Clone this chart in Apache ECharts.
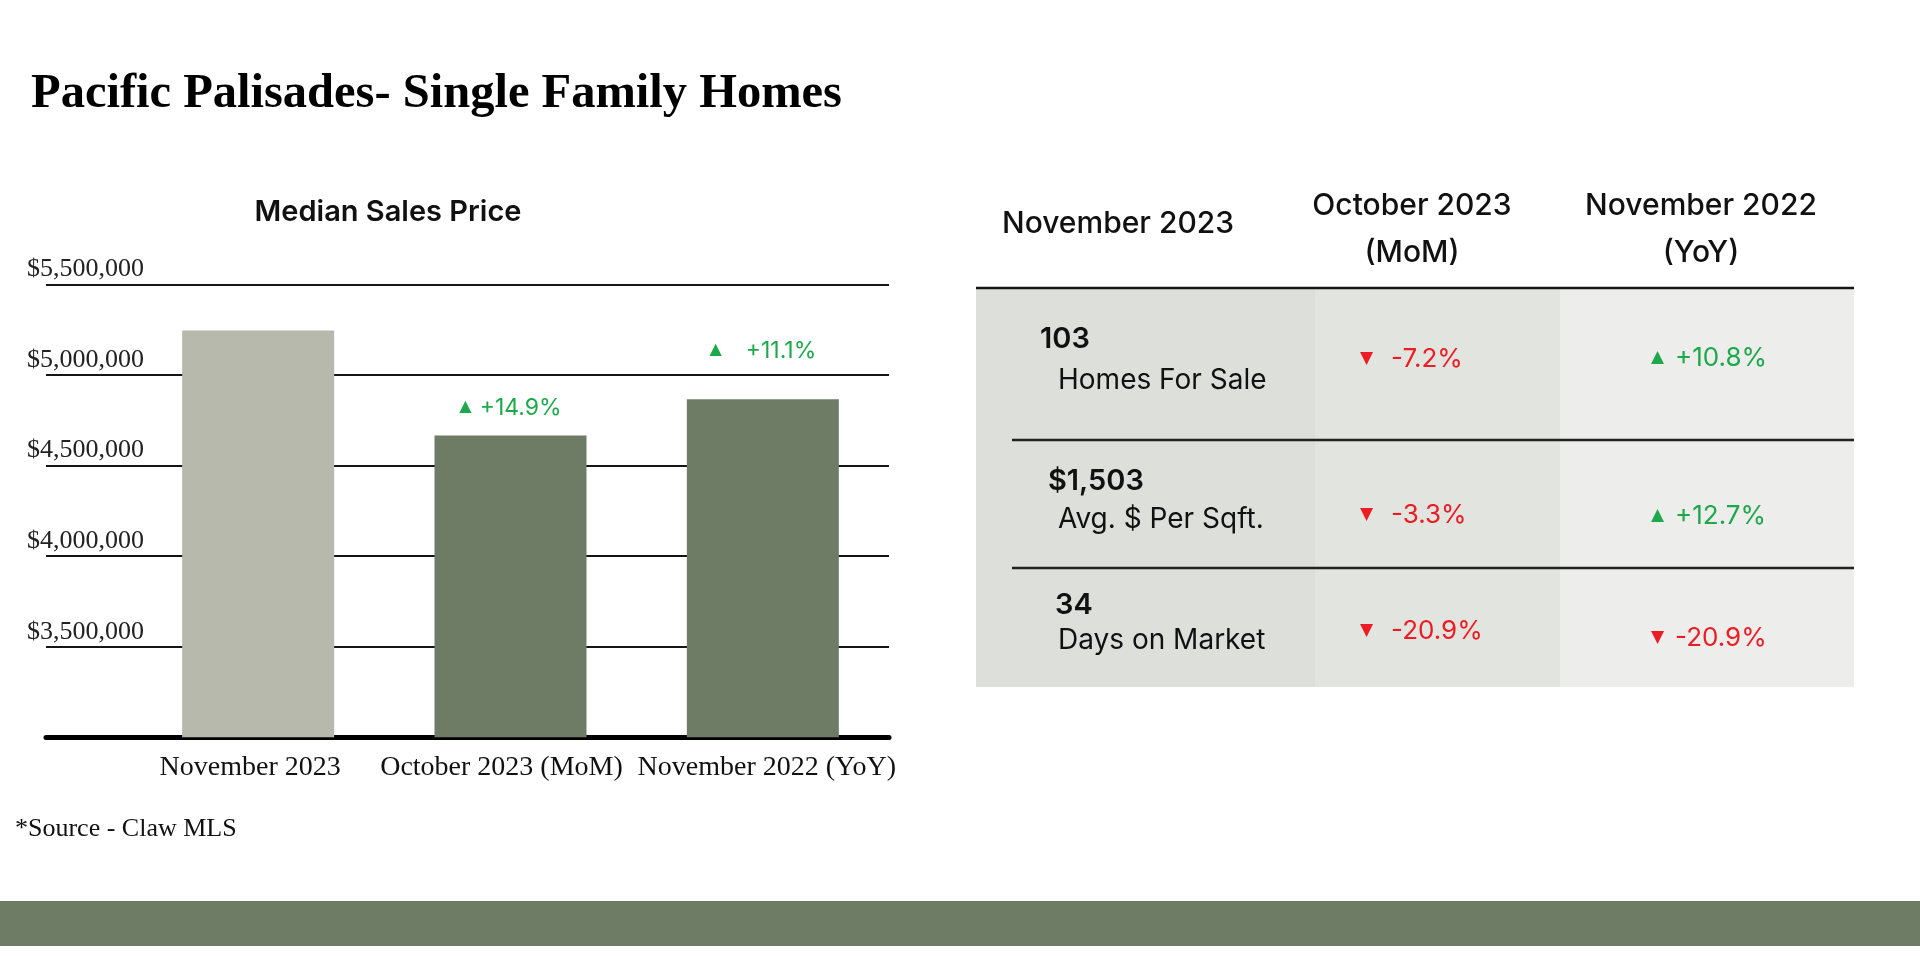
<!DOCTYPE html>
<html><head><meta charset="utf-8">
<script src="https://cdn.jsdelivr.net/npm/echarts@6/dist/echarts.min.js"></script>
<style>html,body{margin:0;padding:0;background:#fff}#c{width:1920px;height:958px}</style>
</head><body><div id="c"></div>
<script>
// ---------- data ----------
const pageTitle = 'Pacific Palisades- Single Family Homes';
const chartTitle = 'Median Sales Price';
const categories = ['November 2023', 'October 2023 (MoM)', 'November 2022 (YoY)'];
const medianPrices = [5245000, 4665000, 4865000];
const priceChanges = ['', '+14.9%', '+11.1%'];
const yMin = 3000000, yMax = 5500000, yStep = 500000;
const sourceNote = '*Source - Claw MLS';
const tableHeaders = ['November 2023', 'October 2023\n(MoM)', 'November 2022\n(YoY)'];
const metricValues = ['103', '$1,503', '34'];
const metricLabels = ['Homes For Sale', 'Avg. $ Per Sqft.', 'Days on Market'];
const momChanges = ['-7.2%', '-3.3%', '-20.9%'];
const yoyChanges = ['+10.8%', '+12.7%', '-20.9%'];

// ---------- styles ----------
const GREEN = '#1ea84c', RED = '#ec1c24';
const BAR_LIGHT = '#b6b9ab', BAR_DARK = '#6f7c65';
const SERIF = "'Liberation Serif', 'Times New Roman', serif";
const SANS = "Inter, Lato, 'Noto Sans', sans-serif";
const SYM = "'DejaVu Sans', sans-serif";

function arrowOf(s) { return s.charAt(0) === '-' ? '▼' : '▲'; }
function colorOf(s) { return s.charAt(0) === '-' ? RED : GREEN; }

function barRich(gap) {
  return {
    tri: { fontFamily: SYM, fontSize: 16, color: GREEN, padding: [0, gap, 2, 0] },
    val: { fontFamily: SANS, fontSize: 23, color: GREEN }
  };
}
const labelDistance = [0, 16, 37];
const labelGap = [0, 8, 24];
// horizontal nudge of the category labels (px, negative = left)
const catLabelShift = [-8, -9, 4];

// ---------- table graphics ----------
const g = [];
const tTop = 289, tBot = 687;
const cols = [[976, 1315, '#dcdfda'], [1315, 1560, '#e2e4df'], [1560, 1854, '#ededeb']];
cols.forEach(c => g.push({ type: 'rect', z: 1, shape: { x: c[0], y: tTop, width: c[1] - c[0], height: tBot - tTop }, style: { fill: c[2] } }));
g.push({ type: 'line', z: 5, shape: { x1: 976, y1: 288, x2: 1854, y2: 288 }, style: { stroke: '#151515', lineWidth: 2.5 } });
[440, 568].forEach(y => g.push({ type: 'line', z: 5, shape: { x1: 1012, y1: y, x2: 1854, y2: y }, style: { stroke: '#222', lineWidth: 2.5 } }));
const headerPos = [[1118, 224], [1412, 229], [1701, 229]];
tableHeaders.forEach((t, i) => g.push({ type: 'text', z: 10, style: {
  text: t, x: headerPos[i][0], y: headerPos[i][1], align: 'center', verticalAlign: 'middle',
  fontFamily: SANS, fontSize: 30, fontWeight: 500, fill: '#111', lineHeight: 47 } }));
const valPos = [[1040, 339], [1048, 481], [1055, 605]];
const labPos = [[1058, 381], [1058, 520], [1058, 641]];
const momY = [359, 515, 631], yoyY = [358, 516, 638];
metricValues.forEach((t, i) => {
  g.push({ type: 'text', z: 10, style: { text: t, x: valPos[i][0], y: valPos[i][1], align: 'left', verticalAlign: 'middle',
    fontFamily: SANS, fontSize: 29, fontWeight: 600, fill: '#111' } });
  g.push({ type: 'text', z: 10, style: { text: metricLabels[i], x: labPos[i][0], y: labPos[i][1], align: 'left', verticalAlign: 'middle',
    fontFamily: SANS, fontSize: 28, fill: '#111' } });
});
function changeText(s, x, y, gap) {
  const c = colorOf(s);
  return { type: 'text', z: 10, style: {
    text: '{tri|' + arrowOf(s) + '}{val|' + s + '}', x: x, y: y, align: 'left', verticalAlign: 'middle',
    rich: { tri: { fontFamily: SYM, fontSize: 17, fill: c, padding: [0, gap, 0, 0] }, val: { fontFamily: SANS, fontSize: 26, fill: c } } } };
}
momChanges.forEach((s, i) => g.push(changeText(s, 1360, momY[i], 18)));
yoyChanges.forEach((s, i) => g.push(changeText(s, 1651, yoyY[i], 11)));
g.push({ type: 'text', z: 10, style: { text: sourceNote, x: 15, y: 829, align: 'left', verticalAlign: 'middle', fontFamily: SERIF, fontSize: 26, fill: '#111' } });
g.push({ type: 'rect', z: 1, shape: { x: 0, y: 901, width: 1920, height: 45 }, style: { fill: BAR_DARK } });

const gridTop = 284.3, gridBottom = 958 - 737.3;

const option = {
  animation: false,
  backgroundColor: '#fff',
  title: [
    { text: pageTitle, left: 26, top: 65, textStyle: { fontFamily: SERIF, fontSize: 48.5, fontWeight: 'bold', color: '#000' } },
    { text: chartTitle, left: 383, top: 193, textAlign: 'center', textStyle: { fontFamily: SANS, fontSize: 29, fontWeight: 600, color: '#111' } }
  ],
  grid: [
    { left: 132, right: 1920 - 889, top: gridTop, bottom: gridBottom },
    { left: 46, right: 1920 - 889, top: gridTop, bottom: gridBottom }
  ],
  xAxis: [
    { gridIndex: 0, type: 'category',
      data: categories.map((c, i) => ({ value: c, textStyle: { padding: catLabelShift[i] < 0 ? [0, -2 * catLabelShift[i], 0, 0] : [0, 0, 0, 2 * catLabelShift[i]] } })),
      axisLine: { show: false }, axisTick: { show: false },
      axisLabel: { interval: 0, hideOverlap: false, margin: 16, fontFamily: SERIF, fontSize: 28, color: '#111' } },
    { gridIndex: 1, type: 'value', min: 0, max: 1,
      axisLine: { show: true, onZero: false, lineStyle: { color: '#000', width: 5 } },
      axisTick: { show: false }, axisLabel: { show: false }, splitLine: { show: false } }
  ],
  yAxis: [
    { gridIndex: 0, type: 'value', min: yMin, max: yMax, interval: yStep,
      axisLine: { show: false }, axisTick: { show: false }, axisLabel: { show: false }, splitLine: { show: false } },
    { gridIndex: 1, type: 'value', min: yMin, max: yMax, interval: yStep,
      axisLine: { show: false }, axisTick: { show: false },
      splitLine: { lineStyle: { color: '#151515', width: 2 } },
      axisLabel: { showMinLabel: false, align: 'left', verticalAlign: 'bottom', margin: 19, padding: [0, 0, 2, 0],
        lineHeight: 26, fontFamily: SERIF, fontSize: 26, color: '#222',
        formatter: v => '$' + v.toLocaleString('en-US') } }
  ],
  series: [{
    type: 'bar', xAxisIndex: 0, yAxisIndex: 0, barWidth: 152,
    data: medianPrices.map((v, i) => ({
      value: v,
      itemStyle: { color: i === 0 ? BAR_LIGHT : BAR_DARK },
      label: { distance: labelDistance[i], rich: barRich(labelGap[i]) }
    })),
    label: {
      show: true, position: 'top',
      formatter: p => priceChanges[p.dataIndex] ? '{tri|' + arrowOf(priceChanges[p.dataIndex]) + '}{val|' + priceChanges[p.dataIndex] + '}' : ''
    }
  }],
  graphic: { elements: g }
};

const chart = echarts.init(document.getElementById('c'));
chart.setOption(option);
</script>
</body></html>
